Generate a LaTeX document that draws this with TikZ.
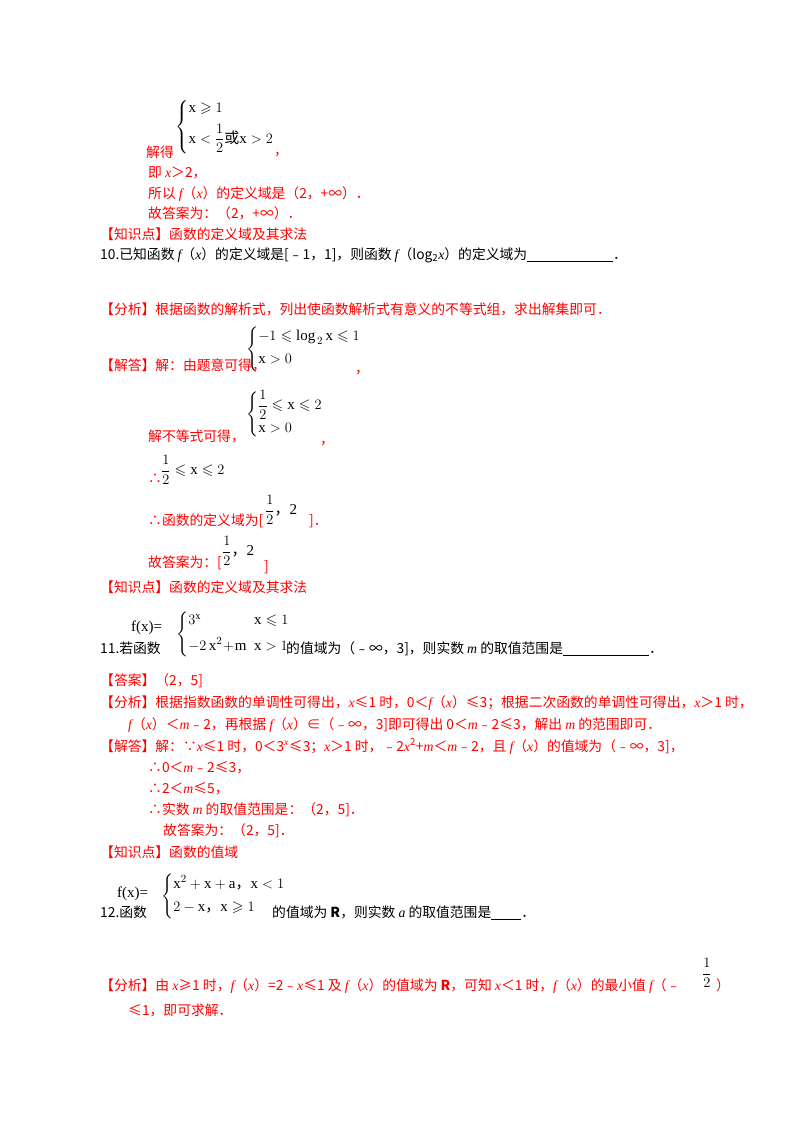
\documentclass[tikz,border=0pt]{standalone}
\usepackage{amsmath,amssymb}
\usepackage{fontspec}
\setmainfont{Liberation Serif}
\newfontfamily\cjk{Noto Sans CJK SC}
\newcommand\iv[1]{{\rmfamily\itshape #1}}
\newcommand\cj[1]{\mbox{\cjk #1}}
\begin{document}
\begin{tikzpicture}[x=1pt,y=1pt,
  r/.style={text=red,anchor=base west,inner sep=0,font=\cjk\fontsize{13.8}{15}\selectfont},
  b/.style={text=black,anchor=base west,inner sep=0,font=\cjk\fontsize{13.8}{15}\selectfont},
  sys/.style={text=black,anchor=west,inner sep=0,font=\rmfamily\fontsize{15}{17}\selectfont}]
\useasboundingbox[fill=white] (0,0) rectangle (800,-1132);
% top
\node[sys] (s1) at (175,-127) {$\left\{\begin{array}{@{}l@{}}\mathrm{x}\geqslant 1\\[6pt] \mathrm{x}<\dfrac{1}{2}\text{\cj{或}}\mathrm{x}>2\end{array}\right.$};
\node[r] (a1) at (146,-157) {解得};
\node[r] (a2) at (274,-155) {，};
\node[r] (a3) at (148,-177) {即 \iv{x}＞2，};
\node[r] (a4) at (148,-198) {所以 \iv{f}（\iv{x}）的定义域是（2，+∞）．};
\node[r] (a5) at (148,-218) {故答案为：（2，+∞）．};
\node[r] (a6) at (100,-239) {【知识点】函数的定义域及其求法};
\node[b] (q10) at (100,-259) {10.已知函数 \iv{f}（\iv{x}）的定义域是[﹣1，1]，则函数 \iv{f}（log\textsubscript{2}\iv{x}）的定义域为\underline{\hspace{86pt}}．};
\node[r] (p10) at (100,-314) {【分析】根据函数的解析式，列出使函数解析式有意义的不等式组，求出解集即可．};
\node[sys] (s2) at (246,-349) {$\left\{\begin{array}{@{}l@{}}-1\leqslant\mathrm{log}_{\,2}\,\mathrm{x}\leqslant 1\\[6pt] \mathrm{x}>0\end{array}\right.$};
\node[r] (j10) at (100,-370) {【解答】解：由题意可得，};
\node[r] (c2) at (355,-373) {，};
\node[sys] (s3) at (246,-414) {$\left\{\begin{array}{@{}l@{}}\dfrac{1}{2}\leqslant\mathrm{x}\leqslant 2\\[6pt] \mathrm{x}>0\end{array}\right.$};
\node[r] (j2) at (148,-441) {解不等式可得，};
\node[r] (c3) at (320,-444) {，};
\node[r] (t1) at (148,-483) {∴};
\node[sys] (f1) at (161,-470) {$\dfrac{1}{2}\leqslant\mathrm{x}\leqslant 2$};
\node[r] (t2) at (148,-525) {∴函数的定义域为[};
\node[sys] (f2) at (265,-510) {$\dfrac{1}{2}$\cj{，}2};
\node[r] (t2b) at (309,-525) {]．};
\node[r] (t3) at (148,-567) {故答案为：[};
\node[sys] (f3) at (222,-551) {$\dfrac{1}{2}$\cj{，}2};
\node[r] (t3b) at (264,-571) {]};
\node[r] (k10) at (100,-592) {【知识点】函数的定义域及其求法};
% 11
\node[b] (q11) at (100,-653) {11.若函数};
\node[sys] (fx11) at (131,-628) {f(x)=};
\node[sys] (s4) at (176,-634) {$\left\{\begin{array}{@{}l@{\ \ }l@{}}3^{\mathrm{x}} & \mathrm{x}\leqslant 1\\[8pt] -2\,\mathrm{x}^{2}\!+\!\mathrm{m} & \mathrm{x}>1\end{array}\right.$};
\node[b] (q11b) at (286,-653) {的值域为（﹣∞，3]，则实数 \iv{m} 的取值范围是\underline{\hspace{86pt}}．};
\node[r] (ans11) at (100,-685) {【答案】（2，5]};
\node[r] (p11) at (100,-707) {【分析】根据指数函数的单调性可得出，\iv{x}≤1 时，0＜\iv{f}（\iv{x}）≤3；根据二次函数的单调性可得出，\iv{x}＞1 时，};
\node[r] (p11b) at (128,-729) {\iv{f}（\iv{x}）＜\iv{m}﹣2，再根据 \iv{f}（\iv{x}）∈（﹣∞，3]即可得出 0＜\iv{m}﹣2≤3，解出 \iv{m} 的范围即可．};
\node[r] (j11) at (100,-751) {【解答】解：∵\iv{x}≤1 时，0＜3\textsuperscript{\iv{x}}≤3；\iv{x}＞1 时，﹣2\iv{x}\textsuperscript{2}+\iv{m}＜\iv{m}﹣2，且 \iv{f}（\iv{x}）的值域为（﹣∞，3]，};
\node[r] (j11b) at (148,-772) {∴0＜\iv{m}﹣2≤3，};
\node[r] (j11c) at (148,-793) {∴2＜\iv{m}≤5，};
\node[r] (j11d) at (148,-814) {∴实数 \iv{m} 的取值范围是：（2，5]．};
\node[r] (j11e) at (163,-835) {故答案为：（2，5]．};
\node[r] (k11) at (100,-857) {【知识点】函数的值域};
% 12
\node[b] (q12) at (100,-917) {12.函数};
\node[sys] (fx12) at (117,-894) {f(x)=};
\node[sys] (s5) at (161,-896) {$\left\{\begin{array}{@{}l@{}}\mathrm{x}^{2}+\mathrm{x}+\mathrm{a}\text{\cj{，}}\mathrm{x}<1\\[6pt] 2-\mathrm{x}\text{\cj{，}}\mathrm{x}\geqslant 1\end{array}\right.$};
\node[b] (q12b) at (272,-917) {的值域为 \textbf{R}，则实数 \iv{a} 的取值范围是\underline{\hspace{30pt}}．};
\node[r] (p12) at (100,-990) {【分析】由 \iv{x}≥1 时，\iv{f}（\iv{x}）=2﹣\iv{x}≤1 及 \iv{f}（\iv{x}）的值域为 \textbf{R}，可知 \iv{x}＜1 时，\iv{f}（\iv{x}）的最小值 \iv{f}（﹣};
\node[sys] (f4) at (702,-973) {$\dfrac{1}{2}$};
\node[r] (p12c) at (716,-990) {）};
\node[r] (p12b) at (128,-1015) {≤1，即可求解．};
\end{tikzpicture}
\end{document}
